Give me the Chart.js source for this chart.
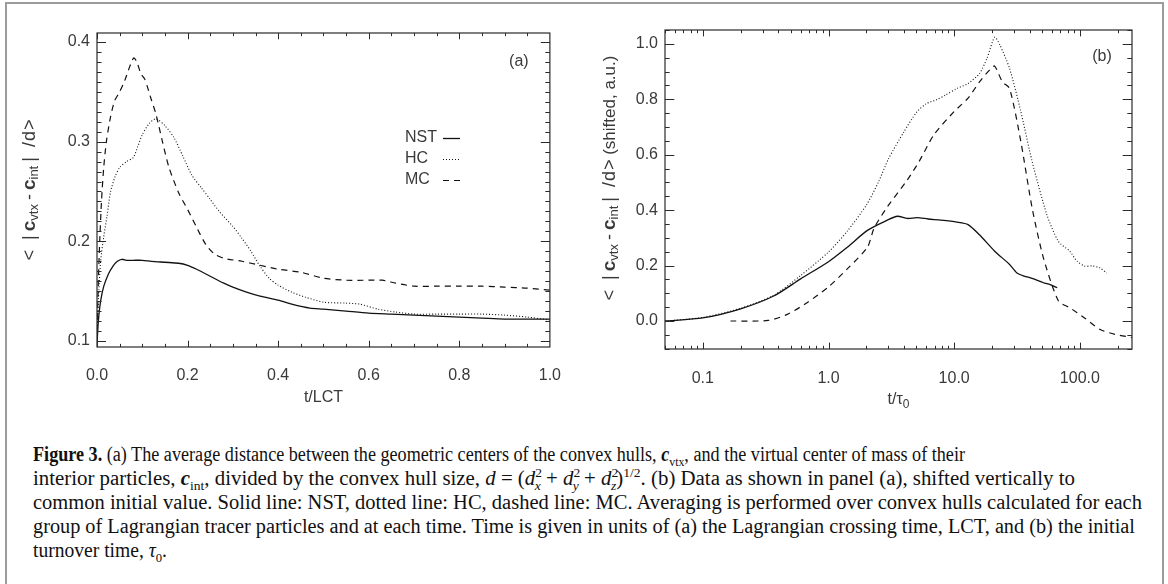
<!DOCTYPE html>
<html>
<head>
  <title>Figure 3</title>
  <style>
    body {
      margin: 0;
      padding: 0;
      width: 1168px;
      height: 584px;
      overflow: hidden;
      background: #fff;
      position: relative;
    }

    #frame {
      position: absolute;
      left: 5px;
      top: 2px;
      width: 1155px;
      height: 620px;
      border: 2px solid #9c9c9c;
      border-bottom: none;
    }

    canvas {
      position: absolute;
      top: 0;
    }

    #cA { left: 0; }
    #cB { left: 580px; }

    .ln {
      position: absolute;
      white-space: nowrap;
      font-family: "Liberation Serif", "DejaVu Serif", serif;
      font-size: 20px;
      line-height: 20px;
      color: #111;
      transform-origin: 0 0;
    }

    .ln sub, .ln sup {
      font-size: 13px;
      line-height: 0;
    }

    .ln .back { margin-left: -7px; }
  </style>
</head>
<body>
  <div id="frame"></div>
  <canvas id="cA" width="580" height="430"></canvas>
  <canvas id="cB" width="588" height="430"></canvas>

  <div class="ln"><b>Figure 3.</b> (a) The average distance between the geometric centers of the convex hulls, <b><i>c</i></b><sub>vtx</sub>, and the virtual center of mass of their</div>
  <div class="ln">interior particles, <b><i>c</i></b><sub>int</sub>, divided by the convex hull size, <i>d</i> = (<i>d</i><sup>2</sup><sub class="back"><i>x</i></sub> + <i>d</i><sup>2</sup><sub class="back"><i>y</i></sub> + <i>d</i><sup>2</sup><sub class="back"><i>z</i></sub>)<sup>1/2</sup>. (b) Data as shown in panel (a), shifted vertically to</div>
  <div class="ln">common initial value. Solid line: NST, dotted line: HC, dashed line: MC. Averaging is performed over convex hulls calculated for each</div>
  <div class="ln">group of Lagrangian tracer particles and at each time. Time is given in units of (a) the Lagrangian crossing time, LCT, and (b) the initial</div>
  <div class="ln">turnover time, <i>τ</i><sub>0</sub>.</div>

  <script src="https://cdn.jsdelivr.net/npm/chart.js"></script>
  <script>
    // ---- panel (a): t/LCT ----
    const nstA_t = [0, 0.003, 0.008, 0.015, 0.025, 0.035, 0.045, 0.055, 0.065, 0.08, 0.1, 0.12, 0.15, 0.18, 0.2, 0.22, 0.25, 0.28, 0.3, 0.33, 0.36, 0.4, 0.43, 0.47, 0.5, 0.55, 0.6, 0.65, 0.7, 0.75, 0.8, 0.85, 0.9, 0.95, 1.0];
    const nstA_v = [0.097, 0.12, 0.14, 0.155, 0.167, 0.175, 0.18, 0.182, 0.181, 0.181, 0.181, 0.180, 0.179, 0.178, 0.176, 0.172, 0.165, 0.158, 0.154, 0.149, 0.145, 0.141, 0.137, 0.133, 0.132, 0.130, 0.128, 0.127, 0.126, 0.125, 0.124, 0.123, 0.122, 0.122, 0.122];

    const hcA_t = [0, 0.003, 0.008, 0.015, 0.022, 0.03, 0.04, 0.05, 0.065, 0.08, 0.09, 0.1, 0.115, 0.13, 0.15, 0.17, 0.19, 0.21, 0.23, 0.25, 0.27, 0.3, 0.32, 0.34, 0.36, 0.38, 0.4, 0.43, 0.46, 0.5, 0.55, 0.58, 0.62, 0.66, 0.7, 0.75, 0.8, 0.85, 0.9, 0.95, 1.0];
    const hcA_v = [0.097, 0.14, 0.18, 0.205, 0.225, 0.25, 0.265, 0.274, 0.28, 0.284, 0.295, 0.307, 0.318, 0.323, 0.316, 0.304, 0.285, 0.266, 0.254, 0.242, 0.23, 0.215, 0.203, 0.19, 0.175, 0.163, 0.156, 0.149, 0.144, 0.139, 0.138, 0.137, 0.132, 0.129, 0.127, 0.127, 0.127, 0.127, 0.126, 0.124, 0.121];

    const mcA_t = [0, 0.003, 0.006, 0.01, 0.015, 0.021, 0.03, 0.039, 0.05, 0.061, 0.072, 0.081, 0.088, 0.097, 0.105, 0.112, 0.12, 0.13, 0.144, 0.159, 0.181, 0.2, 0.22, 0.24, 0.26, 0.28, 0.32, 0.36, 0.4, 0.45, 0.5, 0.55, 0.6, 0.63, 0.66, 0.7, 0.75, 0.8, 0.85, 0.9, 0.95, 1.0];
    const mcA_v = [0.1, 0.16, 0.2, 0.241, 0.275, 0.301, 0.325, 0.341, 0.35, 0.361, 0.375, 0.384, 0.38, 0.368, 0.363, 0.354, 0.342, 0.328, 0.301, 0.274, 0.248, 0.232, 0.214, 0.197, 0.187, 0.183, 0.18, 0.176, 0.172, 0.169, 0.163, 0.161, 0.161, 0.161, 0.158, 0.155, 0.155, 0.155, 0.155, 0.154, 0.153, 0.151];

    // ---- panel (b): t/tau0, shifted ----
    const nstB_t = [0.05, 0.1, 0.2, 0.37, 0.6, 1.0, 1.41, 2.04, 2.94, 3.53, 4.24, 5.08, 6.2, 7.8, 10.5, 12.9, 15.9, 21, 27.6, 31.6, 36, 41.7, 51.3, 58, 66];
    const nstB_v = [0.0, 0.011, 0.044, 0.091, 0.152, 0.214, 0.266, 0.327, 0.364, 0.378, 0.370, 0.373, 0.368, 0.364, 0.357, 0.348, 0.311, 0.252, 0.204, 0.173, 0.162, 0.154, 0.138, 0.131, 0.120];

    const hcB_t = [0.05, 0.1, 0.2, 0.37, 0.6, 1.0, 1.41, 2.0, 2.5, 3.0, 4.0, 5.0, 6.0, 7.3, 8.5, 10.5, 12.9, 15.9, 18.2, 21, 23, 27.6, 33.9, 41.7, 54.6, 67.6, 83, 95, 109, 125, 144, 164];
    const hcB_v = [0.0, 0.013, 0.046, 0.094, 0.164, 0.249, 0.324, 0.418, 0.502, 0.585, 0.684, 0.752, 0.784, 0.799, 0.815, 0.839, 0.857, 0.893, 0.947, 1.024, 0.998, 0.911, 0.756, 0.576, 0.384, 0.287, 0.252, 0.216, 0.198, 0.199, 0.192, 0.173];

    const mcB_t = [0.166, 0.33, 0.47, 0.68, 1.0, 1.41, 2.04, 2.3, 2.94, 4.24, 5.25, 6.9, 10, 12.9, 15.9, 19.6, 21, 24.2, 27.6, 33.9, 41.7, 51.3, 67.6, 83, 109, 144, 190, 264];
    const mcB_v = [0.0, 0.002, 0.024, 0.067, 0.123, 0.188, 0.266, 0.334, 0.412, 0.509, 0.575, 0.672, 0.756, 0.804, 0.863, 0.911, 0.920, 0.863, 0.839, 0.648, 0.408, 0.228, 0.072, 0.048, 0.011, -0.030, -0.048, -0.060];

    // ---- axes ----
    const seriesNames = ['NST', 'HC', 'MC'];
    const xTicksA = [0, 0.2, 0.4, 0.6, 0.8, 1.0];
    const yTicksA = [0.1, 0.2, 0.3, 0.4];
    const xTicksB = [0.1, 1, 10, 100];
    const xLabelsB = ['0.1', '1.0', '10.0', '100.0'];
    const yTicksB = [0, 0.2, 0.4, 0.6, 0.8, 1.0];

    const ink = '#111';
    const textCol = '#3a3a3a';
    const sans = '"Liberation Sans", Arial, sans-serif';
    const styles = [
      { borderDash: [], borderWidth: 1.3 },
      { borderDash: [1, 2], borderWidth: 1.1 },
      { borderDash: [6, 5], borderWidth: 1.2 }
    ];

    function pairs(t, v) {
      return t.map((x, i) => ({ x: x, y: v[i] }));
    }

    function minorSteps(lo, hi, step, majors) {
      const out = [];
      for (let v = lo; v <= hi + 1e-9; v += step) {
        const r = Math.round(v * 1000) / 1000;
        if (!majors.some(m => Math.abs(m - r) < 1e-6)) out.push(r);
      }
      return out;
    }

    const logMinors = [];
    [0.01, 0.1, 1, 10, 100].forEach(d => {
      for (let k = 2; k <= 9; k++) logMinors.push(k * d);
    });

    // draw text made of pieces (bold, subscript ...) centred on cx, cy
    function drawRich(ctx, parts, cx, cy) {
      let total = 0;
      parts.forEach(p => { ctx.font = p.f; total += ctx.measureText(p.t).width + (p.g || 0); });
      let x = cx - total / 2;
      ctx.textAlign = 'left';
      ctx.textBaseline = 'middle';
      parts.forEach(p => {
        ctx.font = p.f;
        ctx.fillText(p.t, x, cy + (p.dy || 0));
        x += ctx.measureText(p.t).width + (p.g || 0);
      });
    }

    const fN = '16px ' + sans;
    const fT = '18px ' + sans;
    const fB = 'bold 19px ' + sans;
    const fS = '13px ' + sans;
    const fS0 = '12px ' + sans;
    const yTitleParts = [
      { t: '<', f: fT, g: 10 }, { t: '|', f: fT, g: 4 },
      { t: 'c', f: fB }, { t: 'vtx', f: fS, dy: 4, g: 4 },
      { t: '-', f: fT, g: 4 }, { t: 'c', f: fB }, { t: 'int', f: fS, dy: 4, g: 4 },
      { t: '|', f: fT, g: 10 }, { t: '/', f: fT, g: 1 }, { t: 'd', f: fT, g: 1 }, { t: '>', f: fT }
    ];

    // IDL style box, inward ticks, titles, legend
    const idlPlugin = {
      id: 'idl',
      afterDatasetsDraw(chart, args, o) {
        const ctx = chart.ctx;
        const a = chart.chartArea;
        const xs = chart.scales.x, ys = chart.scales.y;
        const w = a.right - a.left, h = a.bottom - a.top;
        const xl = 0.02 * h, yl = 0.02 * w;
        ctx.save();
        ctx.strokeStyle = '#2a2a2a';
        ctx.lineWidth = 1.2;
        ctx.strokeRect(a.left, a.top, w, h);
        ctx.lineWidth = 1;
        ctx.beginPath();
        const xMark = (v, len) => {
          const p = Math.round(xs.getPixelForValue(v)) + 0.5;
          if (p < a.left - 0.5 || p > a.right + 0.5) return;
          ctx.moveTo(p, a.bottom); ctx.lineTo(p, a.bottom - len);
          ctx.moveTo(p, a.top); ctx.lineTo(p, a.top + len);
        };
        const yMark = (v, len) => {
          const p = Math.round(ys.getPixelForValue(v)) + 0.5;
          if (p < a.top - 0.5 || p > a.bottom + 0.5) return;
          ctx.moveTo(a.left, p); ctx.lineTo(a.left + len, p);
          ctx.moveTo(a.right, p); ctx.lineTo(a.right - len, p);
        };
        o.xMajor.forEach(v => xMark(v, xl));
        o.xMinor.forEach(v => xMark(v, xl / 2));
        o.yMajor.forEach(v => yMark(v, yl));
        o.yMinor.forEach(v => yMark(v, yl / 2));
        ctx.stroke();

        ctx.fillStyle = textCol;
        // panel tag
        ctx.font = fN;
        ctx.textAlign = 'center';
        ctx.textBaseline = 'middle';
        ctx.fillText(o.tag, a.right - o.tagDx, a.top + o.tagDy);

        // x title
        drawRich(ctx, o.xTitle, (a.left + a.right) / 2, o.xTitleY);

        // y title, rotated
        ctx.save();
        ctx.translate(o.yTitleX, o.yTitleY);
        ctx.rotate(-Math.PI / 2);
        drawRich(ctx, o.yTitle, 0, 0);
        ctx.restore();

        // legend
        if (o.legend) {
          chart.data.datasets.forEach((ds, i) => {
            const ly = a.top + o.legend.dy + i * 21;
            ctx.font = fN;
            ctx.textAlign = 'left';
            ctx.textBaseline = 'middle';
            ctx.fillStyle = textCol;
            ctx.fillText(ds.label, a.left + o.legend.dx, ly);
            ctx.strokeStyle = ink;
            ctx.lineWidth = ds.borderWidth;
            ctx.setLineDash(ds.borderDash);
            ctx.beginPath();
            ctx.moveTo(a.left + o.legend.dx + 38, ly + 0.5);
            ctx.lineTo(a.left + o.legend.dx + 55, ly + 0.5);
            ctx.stroke();
            ctx.setLineDash([]);
          });
        }
        ctx.restore();
      }
    };

    function makeDatasets(list) {
      return list.map((d, i) => ({
        label: seriesNames[i],
        data: d,
        borderColor: ink,
        backgroundColor: 'transparent',
        borderWidth: styles[i].borderWidth,
        borderDash: styles[i].borderDash,
        pointRadius: 0,
        tension: 0.25,
        fill: false
      }));
    }

    function makeOptions(box, xScale, yScale, idl) {
      return {
        responsive: false,
        animation: false,
        events: [],
        layout: { padding: { left: 0, top: box.top, right: box.right, bottom: 0 } },
        plugins: { legend: { display: false }, tooltip: { enabled: false }, idl: idl },
        scales: {
          x: Object.assign({
            grid: { display: false, drawTicks: false },
            border: { display: false },
            afterFit: s => { s.height = box.xh; }
          }, xScale),
          y: Object.assign({
            grid: { display: false, drawTicks: false },
            border: { display: false },
            afterFit: s => { s.width = box.yw; }
          }, yScale)
        }
      };
    }

    const tickFont = { family: sans, size: 16 };

    // panel (a)
    new Chart(document.getElementById('cA').getContext('2d'), {
      type: 'line',
      data: { datasets: makeDatasets([pairs(nstA_t, nstA_v), pairs(hcA_t, hcA_v), pairs(mcA_t, mcA_v)]) },
      options: makeOptions(
        { top: 33, right: 24, xh: 83, yw: 97 },
        {
          type: 'linear', min: 0, max: 1,
          afterBuildTicks: s => { s.ticks = xTicksA.map(v => ({ value: v })); },
          ticks: { color: textCol, font: tickFont, padding: 19, autoSkip: false, maxRotation: 0,
                   callback: v => v.toFixed(1) }
        },
        {
          type: 'linear', min: 0.094, max: 0.409,
          afterBuildTicks: s => { s.ticks = yTicksA.map(v => ({ value: v })); },
          ticks: { color: textCol, font: tickFont, padding: 7, autoSkip: false,
                   callback: v => v.toFixed(1) }
        },
        {
          xMajor: xTicksA, xMinor: minorSteps(0, 1, 0.05, xTicksA),
          yMajor: yTicksA, yMinor: minorSteps(0.1, 0.4, 0.01, yTicksA),
          tag: '(a)', tagDx: 31, tagDy: 29,
          xTitle: [{ t: 't/LCT', f: fN }], xTitleY: 398,
          yTitle: yTitleParts, yTitleX: 30, yTitleY: 190,
          legend: { dx: 308, dy: 105 }
        }),
      plugins: [idlPlugin]
    });

    // panel (b)
    new Chart(document.getElementById('cB').getContext('2d'), {
      type: 'line',
      data: { datasets: makeDatasets([pairs(nstB_t, nstB_v), pairs(hcB_t, hcB_v), pairs(mcB_t, mcB_v)]) },
      options: makeOptions(
        { top: 30, right: 36, xh: 81, yw: 85 },
        {
          type: 'logarithmic', min: 0.05, max: 260,
          afterBuildTicks: s => { s.ticks = xTicksB.map(v => ({ value: v })); },
          ticks: { color: textCol, font: tickFont, padding: 20, autoSkip: false, maxRotation: 0,
                   callback: (v, i) => xLabelsB[i] }
        },
        {
          type: 'linear', min: -0.101, max: 1.05,
          afterBuildTicks: s => { s.ticks = yTicksB.map(v => ({ value: v })); },
          ticks: { color: textCol, font: tickFont, padding: 7, autoSkip: false,
                   callback: v => v.toFixed(1) }
        },
        {
          xMajor: xTicksB, xMinor: logMinors,
          yMajor: yTicksB, yMinor: minorSteps(-0.1, 1.05, 0.05, yTicksB),
          tag: '(b)', tagDx: 30, tagDy: 27,
          xTitle: [{ t: 't/τ', f: fN }, { t: '0', f: fS0, dy: 5 }], xTitleY: 400,
          yTitle: yTitleParts.concat([{ t: ' (shifted, a.u.)', f: '17px ' + sans }]), yTitleX: 30, yTitleY: 178,
          legend: null
        }),
      plugins: [idlPlugin]
    });

    // caption lines: place each one and squeeze it to the measured width
    const capLeft = 33;
    const capRight = [965, 1075, 1142, 1135, 167];
    const capBase = [461, 485, 509, 533, 557];
    document.querySelectorAll('.ln').forEach((el, i) => {
      el.style.left = capLeft + 'px';
      el.style.top = (capBase[i] - 16.8) + 'px';
      const wNat = el.getBoundingClientRect().width;
      el.style.transform = 'scaleX(' + ((capRight[i] - capLeft) / wNat) + ')';
    });
  </script>
</body>
</html>
